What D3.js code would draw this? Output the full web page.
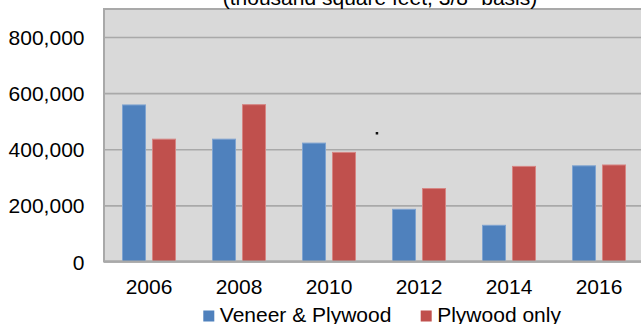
<!DOCTYPE html>
<html>
<head>
<meta charset="utf-8">
<script src="https://cdn.jsdelivr.net/npm/d3@7"></script>
<style>
  html, body { margin: 0; padding: 0; background: #fff; }
  svg { display: block; font-family: "Liberation Sans", Arial, sans-serif; }
</style>
</head>
<body>
<svg id="chart" width="641" height="324"></svg>
<script>
// Production, thousand square feet (3/8" basis)
const years = ["2006", "2008", "2010", "2012", "2014", "2016"];
const seriesNames = ["Veneer & Plywood", "Plywood only"];
const veneerPlywood = [558000, 436000, 422000, 186000, 129000, 341000];
const plywoodOnly = [436000, 559000, 389000, 260000, 339000, 344000];
const yTicks = [0, 200000, 400000, 600000, 800000];
const subtitle = "(thousand square feet, 3/8\" basis)";

const colors = ["#4F81BD", "#C0504D"];
const strokes = ["#7FA3D0", "#D68583"];

const svg = d3.select("#chart");
const plot = { left: 104, right: 644, top: 9, bottom: 261.5 };

const x0 = d3.scaleBand().domain(years).range([plot.left, plot.right]).padding(0);
const x1 = d3.scaleBand().domain(seriesNames)
  .range([18.5, x0.bandwidth() - 18.5]).paddingInner(0.233).paddingOuter(0);
const y = d3.scaleLinear().domain([0, 900000]).range([plot.bottom, plot.top]);

// plot background
svg.append("rect")
  .attr("x", plot.left).attr("y", plot.top)
  .attr("width", plot.right - plot.left).attr("height", plot.bottom - plot.top)
  .attr("fill", "#D9D9D9").attr("stroke", "#A9A9A9").attr("stroke-width", 2);

// gridlines + y labels
const yAxis = d3.axisLeft(y).tickValues(yTicks).tickFormat(d3.format(",")).tickSize(0).tickPadding(0);
const yg = svg.append("g").attr("transform", `translate(${plot.left},0)`).call(yAxis);
yg.select(".domain").remove();
yg.selectAll(".tick text")
  .attr("x", 84.5 - plot.left).attr("dy", "0.36em")
  .attr("font-size", 21).attr("fill", "#000").attr("font-family", "Liberation Sans, Arial, sans-serif");
yg.selectAll(".tick").append("line")
  .attr("x1", 0).attr("x2", plot.right - plot.left)
  .attr("stroke", "#A9A9A9").attr("stroke-width", 1.6);

// bars
const data = years.map((yr, i) => ({ year: yr, values: [veneerPlywood[i], plywoodOnly[i]] }));
const groups = svg.append("g").selectAll("g").data(data).join("g")
  .attr("transform", d => `translate(${x0(d.year)},0)`);
groups.selectAll("rect")
  .data(d => d.values.map((v, k) => ({ key: seriesNames[k], k, v })))
  .join("rect")
  .attr("x", d => x1(d.key))
  .attr("y", d => y(d.v))
  .attr("width", x1.bandwidth())
  .attr("height", d => y(0) - y(d.v))
  .attr("fill", d => colors[d.k])
  .attr("stroke", d => strokes[d.k])
  .attr("stroke-width", 1);

// x axis line
svg.append("line")
  .attr("x1", plot.left).attr("x2", plot.right)
  .attr("y1", plot.bottom).attr("y2", plot.bottom)
  .attr("stroke", "#A9A9A9").attr("stroke-width", 2);

// x labels
const xAxis = d3.axisBottom(x0).tickSize(0).tickPadding(0);
const xg = svg.append("g").attr("transform", `translate(0,${plot.bottom})`).call(xAxis);
xg.select(".domain").remove();
xg.selectAll(".tick text")
  .attr("y", 32.5).attr("dy", 0)
  .attr("font-size", 21).attr("fill", "#000").attr("font-family", "Liberation Sans, Arial, sans-serif");

// subtitle (top part falls outside the view)
svg.append("text")
  .attr("x", 380).attr("y", 4.5)
  .attr("text-anchor", "middle").attr("font-size", 21).attr("fill", "#000")
  .text(subtitle);

// stray point inside the plot
svg.append("rect").attr("x", 375.7).attr("y", 132).attr("width", 2.5).attr("height", 2.5).attr("fill", "#111");

// legend
const legendX = [203.3, 420.7];
const legend = svg.append("g").selectAll("g").data(seriesNames).join("g")
  .attr("transform", (d, i) => `translate(${legendX[i]},310.5)`);
legend.append("rect").attr("width", 11).attr("height", 11).attr("fill", (d, i) => colors[i]);
legend.append("text").attr("x", 16.5).attr("y", 11.2)
  .attr("font-size", 21).attr("fill", "#000").text(d => d);
</script>
</body>
</html>
